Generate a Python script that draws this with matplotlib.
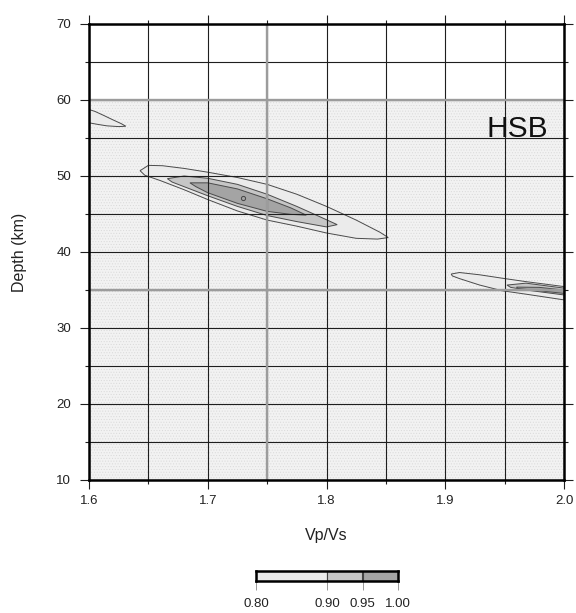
import matplotlib
matplotlib.use('Agg')
import matplotlib.pyplot as plt
from matplotlib.ticker import MultipleLocator

plt.rcParams['font.family'] = ['Liberation Sans', 'DejaVu Sans']
plt.rcParams['hatch.linewidth'] = 0.4

# ---------------- data ----------------
VPVS_TICKS = [1.6, 1.7, 1.8, 1.9, 2.0]
VPVS_LABELS = ['1.6', '1.7', '1.8', '1.9', '2.0']
DEPTH_TICKS = [10, 20, 30, 40, 50, 60, 70]
DEPTH_LABELS = ['10', '20', '30', '40', '50', '60', '70']
DATA_DEPTH_TOP = 60          # stack grid only covers 10-60 km
REF_VPVS = [1.75]
REF_DEPTHS = [60, 35]
BEST_VPVS = 1.730
BEST_DEPTH = 47.1
STATION = 'HSB'

LEVELS = [0.80, 0.90, 0.95, 1.00]
LEVEL_LABELS = ['0.80', '0.90', '0.95', '1.00']
LEVEL_COLORS = ['#ebebeb', '#c6c6c6', '#a4a4a4']

# main maximum: contour polygons (Vp/Vs, depth)
MAIN_080_X = [1.643, 1.650, 1.662, 1.680, 1.700, 1.725, 1.750, 1.775, 1.800, 1.825, 1.845, 1.852,
              1.843, 1.825, 1.800, 1.775, 1.750, 1.725, 1.700, 1.680, 1.660, 1.647]
MAIN_080_Y = [50.7, 51.4, 51.35, 51.0, 50.5, 49.8, 48.9, 47.6, 46.0, 44.2, 42.6, 41.9,
              41.7, 41.8, 42.5, 43.4, 44.2, 45.4, 46.9, 48.2, 49.4, 50.1]
MAIN_090_X = [1.666, 1.680, 1.700, 1.725, 1.750, 1.775, 1.795, 1.809,
              1.800, 1.775, 1.750, 1.725, 1.700, 1.680, 1.670]
MAIN_090_Y = [49.65, 50.0, 49.7, 48.9, 47.6, 46.0, 44.6, 43.6,
              43.3, 44.0, 44.8, 46.0, 47.4, 48.6, 49.2]
MAIN_095_X = [1.685, 1.700, 1.725, 1.750, 1.770, 1.783,
              1.770, 1.750, 1.725, 1.700, 1.690]
MAIN_095_Y = [49.1, 49.1, 48.3, 47.0, 45.8, 44.85,
              44.95, 45.35, 46.4, 47.8, 48.6]

# upper-left secondary maximum (0.80 level)
NW_080_X = [1.600, 1.605, 1.612, 1.620, 1.627, 1.631, 1.625, 1.615, 1.607, 1.600]
NW_080_Y = [58.75, 58.5, 58.0, 57.4, 56.9, 56.55, 56.5, 56.6, 56.8, 57.0]

# right-edge secondary maximum
E_080_X = [1.905, 1.912, 1.929, 1.948, 1.968, 2.000, 2.000, 1.968, 1.948, 1.929, 1.912, 1.906]
E_080_Y = [37.1, 37.3, 37.0, 36.55, 36.1, 35.45, 33.7, 34.45, 34.9, 35.65, 36.5, 36.85]
E_090_X = [1.952, 1.968, 2.000, 2.000, 1.968, 1.955]
E_090_Y = [35.65, 35.9, 35.25, 34.35, 35.0, 35.35]
E_095_X = [1.960, 1.979, 2.000, 2.000, 1.979, 1.961]
E_095_Y = [35.38, 35.35, 35.0, 34.55, 34.9, 35.2]

# ---------------- figure ----------------
fig = plt.figure(figsize=(5.76, 6.13), dpi=100)
ax = fig.add_axes([89 / 576, 1 - 480 / 613, 475 / 576, 456 / 613])
ax.set_xlim(1.6, 2.0)
ax.set_ylim(10, 70)

# stippled background where the stack is defined
ax.axhspan(10, DATA_DEPTH_TOP, facecolor='#f2f2f2', edgecolor='#d9d9d9',
           hatch='......', lw=0, zorder=0)

line_kw = dict(edgecolor='#4a4a4a', linewidth=0.7, zorder=1)
for xs, ys, c in [(MAIN_080_X, MAIN_080_Y, LEVEL_COLORS[0]),
                  (MAIN_090_X, MAIN_090_Y, LEVEL_COLORS[1]),
                  (MAIN_095_X, MAIN_095_Y, LEVEL_COLORS[2]),
                  (NW_080_X, NW_080_Y, LEVEL_COLORS[0]),
                  (E_080_X, E_080_Y, LEVEL_COLORS[0]),
                  (E_090_X, E_090_Y, LEVEL_COLORS[1]),
                  (E_095_X, E_095_Y, LEVEL_COLORS[2])]:
    ax.fill(xs, ys, facecolor=c, **line_kw)

ax.plot([BEST_VPVS], [BEST_DEPTH], marker='o', ms=3, mfc='none', mec='#444', mew=0.7, zorder=2)

# grid
ax.set_xticks(VPVS_TICKS, labels=VPVS_LABELS)
ax.set_yticks(DEPTH_TICKS, labels=DEPTH_LABELS)
ax.xaxis.set_minor_locator(MultipleLocator(0.05))
ax.yaxis.set_minor_locator(MultipleLocator(5))
ax.set_axisbelow(False)
ax.grid(which='both', color='#1e1e1e', linewidth=0.8, zorder=2)

for v in REF_VPVS:
    ax.axvline(v, color='#9c9c9c', linewidth=1.7, zorder=3)
for d in REF_DEPTHS:
    ax.axhline(d, color='#9c9c9c', linewidth=1.7, zorder=3)

ax.tick_params(which='both', direction='out', top=True, right=True,
               color='#1e1e1e', width=0.8, labelsize=9.5, labelcolor='#222222')
ax.tick_params(which='major', length=6.5)
ax.tick_params(which='minor', length=3)
ax.tick_params(axis='x', which='major', pad=4)
ax.tick_params(axis='y', which='major', pad=6.5)
for s in ax.spines.values():
    s.set_linewidth(1.8)
    s.set_zorder(4)

ax.set_xlabel('Vp/Vs', fontsize=11.5, color='#222222')
ax.xaxis.set_label_coords(0.5, -0.106)
ax.set_ylabel('Depth (km)', fontsize=11.5, color='#222222')
ax.yaxis.set_label_coords(-0.131, 0.5)

ax.text(1.9605, 56.2, STATION, fontsize=21.5, ha='center', va='center', color='#111111', zorder=5)

# ---------------- colour scale ----------------
cax = fig.add_axes([256 / 576, 1 - 581 / 613, 142 / 576, 10 / 613])
for lo, hi, c in zip(LEVELS[:-1], LEVELS[1:], LEVEL_COLORS):
    cax.barh(0, hi - lo, left=lo, height=1, color=c, edgecolor='#444444', linewidth=0.8)
cax.set_xlim(LEVELS[0], LEVELS[-1])
cax.set_ylim(-0.5, 0.5)
cax.set_yticks([])
cax.set_xticks(LEVELS, labels=LEVEL_LABELS)
cax.tick_params(axis='x', direction='out', length=6.5, width=0.6, color='#888888',
                labelsize=9.5, pad=6, labelcolor='#222222')
for s in cax.spines.values():
    s.set_linewidth(1.8)

fig.savefig('out.png', dpi=100, facecolor='white')
